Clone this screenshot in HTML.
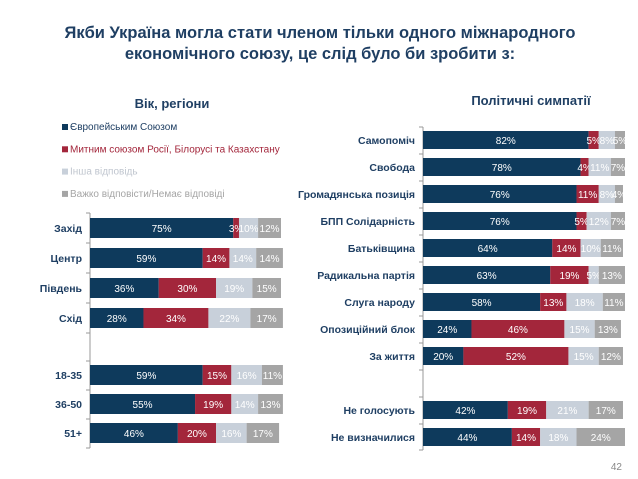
<!DOCTYPE html>
<html><head><meta charset="utf-8"><style>
body{margin:0;background:#fff;font-family:"Liberation Sans","DejaVu Sans",sans-serif;}
#wrap{position:relative;width:638px;height:479px;overflow:hidden;}
svg text{font-family:"Liberation Sans","DejaVu Sans",sans-serif;}
</style></head><body>
<div id="wrap">
<svg id="svg" width="638" height="479">
<text x="320" y="38" text-anchor="middle" font-size="16.5" font-weight="bold" fill="#1f3f63">Якби Україна могла стати членом тільки одного міжнародного</text>
<text x="320" y="59" text-anchor="middle" font-size="16.5" font-weight="bold" fill="#1f3f63">економічного союзу, це слід було би зробити з:</text>
<text x="172" y="108" text-anchor="middle" font-size="13" font-weight="bold" fill="#1f3f63">Вік, регіони</text>
<text x="531" y="105" text-anchor="middle" font-size="13" font-weight="bold" fill="#1f3f63">Політичні симпатії</text>
<text x="622" y="470" text-anchor="end" font-size="10" fill="#888">42</text>
<g id="legend"></g>
<g id="left"></g>
<g id="right"></g>
</svg>
</div>
<script>
const seriesNames=["Європейським Союзом","Митним союзом Росії, Білорусі та Казахстану","Інша відповідь","Важко відповісти/Немає відповіді"];
const colors=["#0e3a5c","#a3263b","#c8d0da","#a5a5a5"];
const legendText=["#1f3f63","#a3263b","#c0c6cf","#a5a5a5"];
const leftCats=["Захід","Центр","Південь","Схід","18-35","36-50","51+"];
const leftEU=[75,59,36,28,59,55,46];
const leftCU=[3,14,30,34,15,19,20];
const leftOther=[10,14,19,22,16,14,16];
const leftHard=[12,14,15,17,11,13,17];
const rightCats=["Самопоміч","Свобода","Громадянська позиція","БПП Солідарність","Батьківщина","Радикальна партія","Слуга народу","Опозиційний блок","За життя","Не голосують","Не визначилися"];
const rightEU=[82,78,76,76,64,63,58,24,20,42,44];
const rightCU=[5,4,11,5,14,19,13,46,52,19,14];
const rightOther=[8,11,8,12,10,5,18,15,15,21,18];
const rightHard=[5,7,4,7,11,13,11,13,12,17,24];
const NS="http://www.w3.org/2000/svg";
function mk(p,t,a){const e=document.createElementNS(NS,t);for(const k in a)e.setAttribute(k,a[k]);p.appendChild(e);return e;}
const lg=document.getElementById('legend');
seriesNames.forEach((n,i)=>{const y=130+i*22.3;
 const r=mk(lg,'rect',{x:62,y:y-6,width:6,height:6,fill:colors[i]});
 
 
 const t=mk(lg,'text',{x:70,y:y,'font-size':10,fill:legendText[i]});t.textContent=n;
 
 
});
function panel(g,cats,series,x0,scale,ys,bh,tickTop,tickBot,tickYs,fs){
 mk(g,'line',{x1:x0,y1:tickTop,x2:x0,y2:tickBot,stroke:'#999','stroke-width':1});
 tickYs.forEach(ty=>mk(g,'line',{x1:x0-4,y1:ty,x2:x0,y2:ty,stroke:'#999','stroke-width':1}));
 cats.forEach((c,i)=>{const y=ys[i];
  const lab=mk(g,'text',{x:x0-8,y:y+4,'text-anchor':'end','font-size':fs,'font-weight':'bold',fill:'#1f3f63'});lab.textContent=c;
  
  
  let x=x0;
  series.forEach((s,k)=>{const w=s[i]*scale;
   const r=mk(g,'rect',{x:x,y:y-bh/2,width:w,height:bh,fill:colors[k]});
   
   
   const t=mk(g,'text',{x:x+w/2,y:y+4,'text-anchor':'middle','font-size':10,fill:'#fff'});t.textContent=s[i]+'%';
   
   
   x+=w;});
 });
}
const lys=[228,258,288,318,375,404,433];
panel(document.getElementById('left'),leftCats,[leftEU,leftCU,leftOther,leftHard],90,1.91,lys,20,213,448,[213,243,273,303,333,361,390,419,448],10.5);
const rys=[140,167,194,221,248,275,302,329,356,410,437];
const rt=[];for(let i=0;i<=10;i++)rt.push(127+i*27);rt.push(397,424,450);
panel(document.getElementById('right'),rightCats,[rightEU,rightCU,rightOther,rightHard],423,2.02,rys,18,127,450,rt,10.5);
</script>
</body></html>
